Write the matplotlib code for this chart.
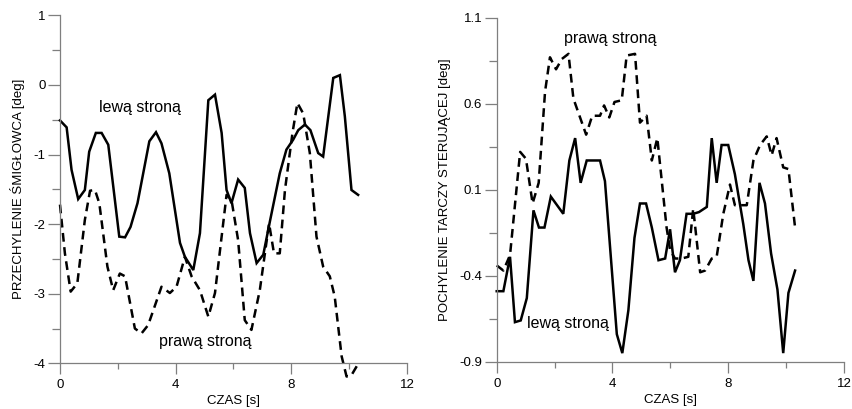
import matplotlib
matplotlib.use("Agg")
import matplotlib.pyplot as plt
from matplotlib.ticker import MultipleLocator

plt.rcParams['font.family'] = ['Liberation Sans', 'DejaVu Sans']

# Left panel: PRZECHYLENIE SMIGLOWCA
L_lewa_t = [0, 0.23, 0.4, 0.63, 0.86, 1.01, 1.24, 1.44, 1.67, 2.05, 2.25, 2.44, 2.68, 3.09, 3.32,
            3.51, 3.78, 4.15, 4.32, 4.61, 4.84, 5.13, 5.36, 5.59, 5.76, 5.93, 6.16, 6.39, 6.57,
            6.80, 7.03, 7.26, 7.60, 7.83, 8.06, 8.24, 8.47, 8.66, 8.93, 9.10, 9.45, 9.68, 9.85,
            10.08, 10.31]
L_lewa_y = [-0.51, -0.61, -1.22, -1.64, -1.51, -0.96, -0.69, -0.69, -0.86, -2.18, -2.19, -2.04,
            -1.70, -0.81, -0.68, -0.84, -1.27, -2.27, -2.47, -2.66, -2.13, -0.22, -0.14, -0.69,
            -1.51, -1.70, -1.36, -1.48, -2.13, -2.56, -2.44, -1.96, -1.27, -0.93, -0.79, -0.65,
            -0.57, -0.65, -0.98, -1.03, 0.10, 0.14, -0.45, -1.51, -1.58]
L_prawa_t = [0, 0.17, 0.37, 0.6, 0.86, 1.04, 1.21, 1.36, 1.64, 1.84, 2.07, 2.25, 2.59, 2.82, 3.05,
             3.51, 3.80, 4.03, 4.32, 4.55, 4.84, 5.13, 5.36, 5.76, 5.93, 6.16, 6.39, 6.62, 6.91,
             7.23, 7.40, 7.60, 7.78, 8.04, 8.21, 8.41, 8.64, 8.87, 9.10, 9.33, 9.50, 9.74, 9.91,
             10.08, 10.35]
L_prawa_y = [-1.72, -2.42, -2.97, -2.85, -1.94, -1.52, -1.51, -1.70, -2.61, -2.95, -2.71, -2.75,
             -3.50, -3.57, -3.45, -2.90, -2.99, -2.90, -2.47, -2.75, -2.95, -3.33, -2.99, -1.58,
             -1.65, -2.23, -3.38, -3.52, -2.95, -1.99, -2.42, -2.42, -1.51, -0.69, -0.26, -0.41,
             -0.98, -2.18, -2.61, -2.75, -3.04, -3.90, -4.19, -4.17, -3.98]

# Right panel: POCHYLENIE TARCZY STERUJACEJ
R_lewa_t = [0, 0.23, 0.46, 0.63, 0.83, 1.04, 1.27, 1.46, 1.65, 1.87, 2.30, 2.51, 2.71, 2.90, 3.11,
            3.57, 3.74, 4.15, 4.34, 4.55, 4.76, 4.95, 5.16, 5.36, 5.59, 5.82, 5.99, 6.16, 6.33,
            6.56, 6.79, 6.99, 7.26, 7.43, 7.60, 7.77, 8.00, 8.23, 8.52, 8.70, 8.87, 9.08, 9.27,
            9.48, 9.70, 9.90, 10.08, 10.31]
R_lewa_y = [-0.49, -0.49, -0.29, -0.67, -0.66, -0.53, -0.02, -0.12, -0.12, 0.06, -0.04, 0.27,
            0.40, 0.14, 0.27, 0.27, 0.15, -0.74, -0.85, -0.60, -0.18, 0.02, 0.02, -0.12, -0.31,
            -0.30, -0.13, -0.38, -0.31, -0.04, -0.04, -0.03, 0.0, 0.40, 0.14, 0.36, 0.36, 0.19,
            -0.10, -0.31, -0.43, 0.14, 0.02, -0.27, -0.48, -0.85, -0.50, -0.37]
R_prawa_t = [0, 0.23, 0.46, 0.81, 1.01, 1.24, 1.45, 1.67, 1.84, 2.05, 2.25, 2.48, 2.65, 3.09, 3.30,
             3.57, 3.71, 3.89, 4.07, 4.32, 4.49, 4.78, 4.95, 5.18, 5.36, 5.55, 5.87, 5.99, 6.16,
             6.39, 6.62, 6.79, 7.03, 7.20, 7.43, 7.60, 7.83, 8.06, 8.23, 8.46, 8.64, 8.87, 9.10,
             9.33, 9.50, 9.67, 9.90, 10.08, 10.31]
R_prawa_y = [-0.34, -0.37, -0.28, 0.32, 0.28, 0.02, 0.14, 0.67, 0.87, 0.80, 0.86, 0.89, 0.63,
             0.42, 0.53, 0.53, 0.59, 0.52, 0.61, 0.62, 0.88, 0.89, 0.49, 0.53, 0.27, 0.40, -0.12,
             -0.25, -0.30, -0.30, -0.29, -0.01, -0.38, -0.37, -0.30, -0.29, -0.04, 0.13, 0.01,
             0.01, 0.01, 0.27, 0.36, 0.41, 0.30, 0.40, 0.23, 0.22, -0.12]

x_ticks = [0, 4, 8, 12]
L_yticks = [1, 0, -1, -2, -3, -4]
R_yticks = [1.1, 0.6, 0.1, -0.4, -0.9]
R_yminor = [0.85, 0.35, -0.15, -0.65]

fig = plt.figure(figsize=(8.52, 4.09), dpi=100)
axL = fig.add_axes([0.0704, 0.1117, 0.4073, 0.8509])
axR = fig.add_axes([0.5830, 0.1156, 0.4076, 0.8411])

dash = (0, (3.5, 2.2))
spine_col = '#7f7f7f'

def style(ax):
    for s in ['top', 'right']:
        ax.spines[s].set_visible(False)
    for s in ['left', 'bottom']:
        ax.spines[s].set_color(spine_col)
        ax.spines[s].set_linewidth(0.9)
    ax.tick_params(axis='both', which='both', color=spine_col, width=0.9, labelsize=9.5,
                   direction='out')
    ax.tick_params(axis='x', which='major', length=8, pad=3.5)
    ax.tick_params(axis='x', which='minor', length=4.5)
    ax.tick_params(axis='y', which='major', length=8.5, pad=2)
    ax.tick_params(axis='y', which='minor', length=6)
    ax.set_xlim(0, 12)
    ax.set_xticks(x_ticks)
    ax.xaxis.set_minor_locator(MultipleLocator(2))
    ax.set_xlabel('CZAS [s]', fontsize=9.5, labelpad=3)

# Left
axL.plot(L_lewa_t, L_lewa_y, color='black', lw=1.8, solid_joinstyle='miter', clip_on=False)
axL.plot(L_prawa_t, L_prawa_y, color='black', lw=1.8, linestyle=dash, clip_on=False)
axL.set_ylim(-4, 1)
axL.set_yticks(L_yticks)
axL.set_yticklabels([str(v) for v in L_yticks])
axL.yaxis.set_minor_locator(MultipleLocator(0.5))
style(axL)
axL.set_ylabel('PRZECHYLENIE ŚMIGŁOWCA [deg]', fontsize=9.5, labelpad=6)
axL.text(2.77, -0.33, 'lewą stroną', fontsize=11.5, ha='center', va='center')
axL.text(5.01, -3.69, 'prawą stroną', fontsize=11.5, ha='center', va='center')

# Right
axR.plot(R_lewa_t, R_lewa_y, color='black', lw=1.8, solid_joinstyle='miter', clip_on=False)
axR.plot(R_prawa_t, R_prawa_y, color='black', lw=1.8, linestyle=dash, clip_on=False)
axR.set_ylim(-0.9, 1.1)
axR.set_yticks(R_yticks)
axR.set_yticklabels([str(v) for v in R_yticks])
style(axR)
axR.set_yticks(R_yminor, minor=True)
axR.set_ylabel('POCHYLENIE TARCZY STERUJĄCEJ [deg]', fontsize=9.5, labelpad=6)
axR.text(3.92, 0.98, 'prawą stroną', fontsize=11.5, ha='center', va='center')
axR.text(2.46, -0.675, 'lewą stroną', fontsize=11.5, ha='center', va='center')

fig.savefig('out.png', dpi=100)
